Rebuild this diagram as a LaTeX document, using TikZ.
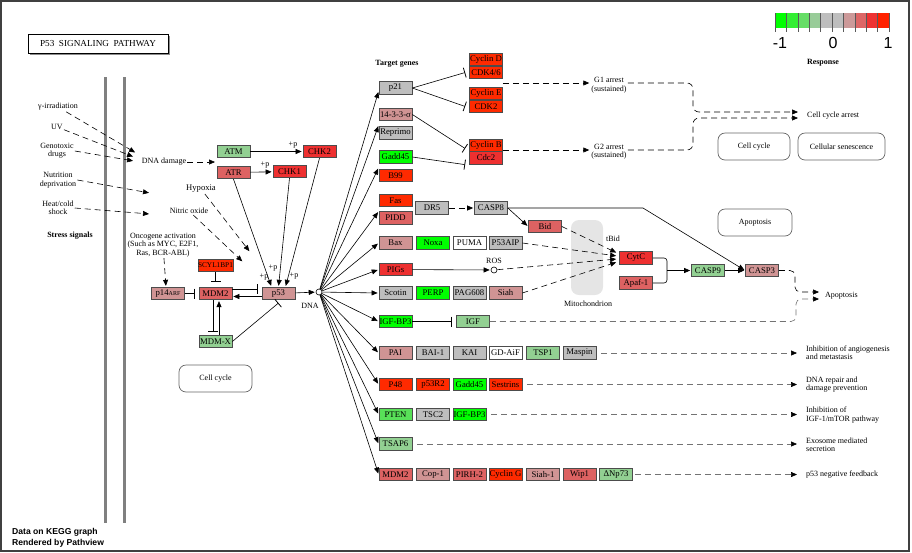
\documentclass[tikz,border=0pt]{standalone}
\usepackage{fontspec}
\setmainfont{Liberation Serif}
\setsansfont{Liberation Sans}
\usetikzlibrary{arrows.meta}

\definecolor{upH}{HTML}{FF2A00}
\definecolor{upM}{HTML}{EE3030}
\definecolor{upL}{HTML}{DD6262}
\definecolor{upS}{HTML}{D09494}
\definecolor{mid}{HTML}{BEBEBE}
\definecolor{dnS}{HTML}{92D092}
\definecolor{dnM}{HTML}{58E058}
\definecolor{dnH}{HTML}{00FF00}

\newcommand{\genefont}{\fontsize{8.7}{9}\selectfont}
\newcommand{\lblfont}{\fontsize{8}{8.4}\selectfont}

\begin{document}
\begin{tikzpicture}[x=1pt, y=-1pt,
    every node/.style={font=\lblfont},
    gene/.style={rectangle, draw=black!70, line width=0.7pt, minimum width=33pt, minimum height=12.6pt, inner sep=0pt, font=\genefont},
    note/.style={align=center, inner sep=1pt, font=\lblfont},
    outcome/.style={align=left, anchor=west, inner sep=0pt, font=\lblfont},
    group/.style={rectangle, rounded corners=7pt, draw=black!60, line width=0.7pt, minimum height=27pt, font=\lblfont},
    act/.style={-{Triangle[length=6pt,width=5pt]}, line width=0.6pt, shorten >=1pt},
    inh/.style={-{Bar[width=10pt,line width=0.8pt]}, line width=0.6pt},
    indirect/.style={act, dash pattern=on 6pt off 4pt},
    feed/.style={indirect, draw=black!55, -{Triangle[length=6pt,width=5pt,color=black]}},
    dot/.style={circle, draw, fill=white, inner sep=0pt, minimum size=6pt, line width=0.6pt}
  ]
    \useasboundingbox (0,0) rectangle (912,552);
    \draw[black!75, line width=2pt] (1,1) rectangle (909,551);

    % title and legend
    \fill[black!45] (30,36) rectangle (170,55);
    \node[draw, fill=white, line width=0.8pt, minimum width=140pt, minimum height=19pt, inner sep=0pt, font=\fontsize{9.2}{10}\selectfont] (title) at (98,43.5) {P53\ \ SIGNALING\ \ PATHWAY};
    \foreach \c [count=\i from 0] in {00FF00,33EE33,66DD66,99CC99,BEBEBE,BEBEBE,CC9999,DD6666,EE3333,FF2200} {
      \definecolor{bin}{HTML}{\c}
      \fill[bin] (775+\i*11.4,13) rectangle ++(11.4,15);
    }
    \foreach \i in {0,...,10} {
      \draw[black!65, line width=0.6pt] (775+\i*11.4,13) -- (775+\i*11.4,32);
    }
    \node[font=\sffamily\fontsize{16}{16}\selectfont] (lmin) at (780,43) {-1};
    \node[font=\sffamily\fontsize{16}{16}\selectfont] (lmid) at (833,43) {0};
    \node[font=\sffamily\fontsize{16}{16}\selectfont] (lmax) at (888,43) {1};
    \node[note, font=\lblfont\bfseries] (resp) at (823,63) {Response};
    \node[anchor=west, align=left, inner sep=0pt, font=\sffamily\bfseries\fontsize{8.6}{11}\selectfont] (credit) at (12,537.5) {Data on KEGG graph\\Rendered by Pathview};

    % membrane bars
    \draw[black!50, line width=3pt] (105,77) -- (105,523);
    \draw[black!50, line width=3pt] (124,77) -- (124,523);

    % stress signals
    \node[note] (gamma) at (58,107) {γ-irradiation};
    \node[note] (uv) at (57,127) {UV};
    \node[note] (geno) at (57,151) {Genotoxic\\drugs};
    \node[note] (nutri) at (58,180) {Nutrition\\deprivation};
    \node[note] (heat) at (58,208) {Heat/cold\\shock};
    \node[note, font=\lblfont\bfseries] (stress) at (70,236) {Stress signals};
    \node[note] (dmg) at (164,162) {DNA damage};
    \node[note, font=\fontsize{8.6}{9}\selectfont] (hyp) at (201,189) {Hypoxia};
    \node[note] (nitric) at (189,211) {Nitric oxide};
    \node[note] (onc) at (163,245) {Oncogene activation\\(Such as MYC, E2F1,\\Ras, BCR-ABL)};
    \coordinate (hitA) at (136,153);
    \coordinate (hitB) at (134,157);
    \coordinate (hitC) at (134,161);
    \coordinate (hitD) at (150,193);
    \coordinate (hitE) at (150,214);
    \coordinate (dmgout) at (216,162);
    \coordinate (hypout) at (250,252);
    \coordinate (noout) at (243,262);
    \draw[indirect] (gamma) -- (hitA);
    \draw[indirect] (uv) -- (hitB);
    \draw[indirect] (geno.east) -- (hitC);
    \draw[indirect] (nutri.east) -- (hitD);
    \draw[indirect] (heat.east) -- (hitE);
    \draw[indirect] (dmg) -- (dmgout);
    \draw[indirect] (hyp) -- (hypout);
    \draw[indirect] (nitric) -- (noout);

    % p53 core
    \node[gene, fill=dnS] (atm) at (233.5,151.5) {ATM};
    \node[gene, fill=upL] (atr) at (233.5,172.5) {ATR};
    \node[gene, fill=upM] (chk1) at (289.5,171.5) {CHK1};
    \node[gene, fill=upM] (chk2) at (319.5,151.5) {CHK2};
    \node[gene, fill=upS] (p53) at (278.5,293.5) {p53};
    \node[gene, fill=upL] (mdm2) at (215.5,293.5) {MDM2};
    \node[gene, fill=upS] (p14) at (168,293.5) {p14{\fontsize{6}{6}\selectfont ARF}};
    \node[gene, fill=upH, font=\fontsize{7.3}{8}\selectfont] (scyl) at (215.5,265.5) {SCYL1BP1};
    \node[gene, fill=dnS] (mdmx) at (215.5,341.5) {MDM-X};
    \node[dot] (dna) at (319,292) {};
    \node[note] (dnalbl) at (310,306) {DNA};

    \draw[act] (atm) -- (chk2);
    \draw[act] (atr) -- (chk1);
    \node[note] (pA) at (293,145) {+p};
    \node[note] (pB) at (265,165) {+p};
    \draw[act] (atr.south) -- ([xshift=-7pt]p53.north);
    \draw[act] (chk1.south) -- (p53.north);
    \draw[act] (chk2.south) -- ([xshift=7pt]p53.north);
    \node[note] (pC) at (264,277) {+p};
    \node[note] (pD) at (273,268) {+p};
    \node[note] (pE) at (294,276) {+p};
    \draw[indirect] (onc) -- ([xshift=-2pt]p14.north);
    \draw[inh] (p14) -- ([xshift=-4pt]mdm2.west);
    \draw[inh] (scyl) -- (mdm2.north |- 0,282);
    \draw[inh] (mdm2.east |- 0,289) -- ([xshift=-4pt]p53.west |- 0,289);
    \draw[act] (p53.west |- 0,296.5) -- (mdm2.east |- 0,296.5);
    \draw[inh] ([xshift=-2.5pt]mdm2.south) -- ([xshift=-2.5pt]mdmx.north |- 0,332);
    \draw[act] ([xshift=3.5pt]mdmx.north) -- ([xshift=3.5pt]mdm2.south);
    \draw[inh] (mdmx.east) -- (p53.south |- 0,303);
    \draw[act] (p53) -- (dna);
    \node[group, minimum width=73pt] (cyc2) at (215.5,378.5) {Cell cycle};

    % target genes
    \node[note, font=\lblfont\bfseries] (targets) at (397,64) {Target genes};
    \node[gene, fill=mid] (p21) at (395.5,88) {p21};
    \node[gene, fill=upS] (sigma) at (395.5,114.5) {14-3-3-σ};
    \node[gene, fill=mid] (reprimo) at (395.5,133) {Reprimo};
    \node[gene, fill=dnH] (gaddA) at (395.5,157) {Gadd45};
    \node[gene, fill=upH] (b99) at (395.5,175.5) {B99};
    \node[gene, fill=upH] (fas) at (395.5,200.5) {Fas};
    \node[gene, fill=upL] (pidd) at (395.5,218) {PIDD};
    \node[gene, fill=upS] (bax) at (395.5,243) {Bax};
    \node[gene, fill=upM] (pigs) at (395.5,269.5) {PIGs};
    \node[gene, fill=mid] (scotin) at (395.5,293) {Scotin};
    \node[gene, fill=dnH] (igfbpA) at (395.5,321.5) {IGF-BP3};
    \node[gene, fill=upS] (pai) at (395.5,353) {PAI};
    \node[gene, fill=upH] (p48) at (395.5,384.5) {P48};
    \node[gene, fill=dnM] (pten) at (395.5,414.5) {PTEN};
    \node[gene, fill=dnS] (tsap6) at (395.5,444) {TSAP6};
    \node[gene, fill=upL] (mdm2b) at (395.5,474.5) {MDM2};

    \node[gene, fill=dnH] (noxa) at (433,243) {Noxa};
    \node[gene, fill=white] (puma) at (469.5,243) {PUMA};
    \node[gene, fill=mid] (p53aip) at (505.5,243) {P53AIP};
    \node[gene, fill=dnH] (perp) at (433,293) {PERP};
    \node[gene, fill=mid] (pag608) at (469.5,293) {PAG608};
    \node[gene, fill=upS] (siah) at (505.5,293) {Siah};
    \node[gene, fill=dnS] (igf) at (473,321.5) {IGF};
    \node[gene, fill=mid] (bai1) at (433,353) {BAI-1};
    \node[gene, fill=mid] (kai) at (469.5,353) {KAI};
    \node[gene, fill=white] (gdaif) at (505.5,353) {GD-AiF};
    \node[gene, fill=dnS] (tsp1) at (543,353) {TSP1};
    \node[gene, fill=mid] (maspin) at (579.5,353) {Maspin};
    \node[gene, fill=upH] (p53r2) at (433,384.5) {p53R2};
    \node[gene, fill=dnH] (gaddB) at (469.5,384.5) {Gadd45};
    \node[gene, fill=upH] (sestrins) at (505.5,384.5) {Sestrins};
    \node[gene, fill=mid] (tsc2) at (433,414.5) {TSC2};
    \node[gene, fill=dnH] (igfbpB) at (469.5,414.5) {IGF-BP3};
    \node[gene, fill=upS] (cop1) at (433,474.5) {Cop-1};
    \node[gene, fill=upL] (pirh2) at (469.5,474.5) {PIRH-2};
    \node[gene, fill=upH] (cycg) at (505.5,474.5) {Cyclin G};
    \node[gene, fill=upS] (siah1) at (543,474.5) {Siah-1};
    \node[gene, fill=upL] (wip1) at (579.5,474.5) {Wip1};
    \node[gene, fill=dnS] (dnp73) at (616,474.5) {ΔNp73};

    \draw[act] (dna) -- ([yshift=-3pt]p21.west);
    \draw[act] (dna) -- ([yshift=-4pt]sigma.south west);
    \draw[act] (dna) -- ([yshift=-4pt]gaddA.south west);
    \draw[act] (dna) -- (pidd.north west);
    \foreach \t in {bax,pigs,scotin,igfbpA,pai,p48,pten,tsap6,mdm2b} {
      \draw[act] (dna) -- (\t.west);
    }

    % cell cycle arrest
    \node[gene, fill=upH] (cycd) at (486,59.5) {Cyclin D};
    \node[gene, fill=upH] (cdk46) at (486,72.5) {CDK4/6};
    \node[gene, fill=upH] (cyce) at (486,93.5) {Cyclin E};
    \node[gene, fill=upH] (cdk2) at (486,106.5) {CDK2};
    \node[gene, fill=upH] (cycb) at (486,145.5) {Cyclin B};
    \node[gene, fill=upM] (cdc2) at (486,158) {Cdc2};
    \draw[inh] (p21.east) -- ([xshift=-4pt]cdk46.west);
    \draw[inh] (p21.east) -- ([xshift=-4pt]cdk2.west);
    \draw[inh] (sigma.east) -- ([xshift=-4pt,yshift=-3pt]cycb.west);
    \draw[inh] (gaddA.east) -- ([xshift=-4pt]cdc2.south west);
    \node[note] (g1) at (609,85) {G1 arrest\\(sustained)};
    \node[note] (g2) at (609,151.5) {G2 arrest\\(sustained)};
    \node[outcome] (arrest) at (807,116) {Cell cycle arrest};
    \draw[indirect] (cdk46.south east |- 0,83) -- (g1.west |- 0,83);
    \draw[indirect] (cycb.east |- 0,150) -- (g2.west |- 0,150);
    \draw[indirect, rounded corners=6pt] (g1.east |- 0,83) -- (693,83) -- (693,112) -- ([xshift=-8pt]arrest.west |- 0,112);
    \draw[indirect, rounded corners=6pt] (g2.east |- 0,150) -- (693,150) -- (693,118) -- ([xshift=-8pt]arrest.west |- 0,118);
    \node[group, minimum width=72pt] (cyc1) at (754,146.5) {Cell cycle};
    \node[group, minimum width=87pt] (senes) at (841.5,146.5) {Cellular senescence};

    % apoptosis
    \node[rectangle, rounded corners=8pt, fill=black!10, minimum width=32pt, minimum height=75pt] (mito) at (587,257.5) {};
    \node[note] (mitolbl) at (588,304) {Mitochondrion};
    \node[gene, fill=mid] (dr5) at (432,208) {DR5};
    \node[gene, fill=mid] (casp8) at (491,208) {CASP8};
    \node[gene, fill=upL] (bid) at (545,226.5) {Bid};
    \node[gene, fill=upM] (cytc) at (636,258) {CytC};
    \node[gene, fill=upL] (apaf) at (636,283) {Apaf-1};
    \node[gene, fill=dnS] (casp9) at (708,270.5) {CASP9};
    \node[gene, fill=upS] (casp3) at (762,270.5) {CASP3};
    \node[dot] (ros) at (494,270) {};
    \node[note] (roslbl) at (494,261) {ROS};
    \node[note] (tbid) at (613,239) {tBid};
    \node[group, minimum width=74pt] (apo) at (755,222.5) {Apoptosis};
    \node[outcome] (apopt) at (825,296) {Apoptosis};
    \coordinate (join) at (667,270.5);

    \draw[indirect] (dr5) -- (casp8);
    \draw[act] (casp8.east) -- (bid.west);
    \draw[act] (casp8.east) -- (643,208) -- (casp3.west);
    \draw[act] (pigs) -- (ros);
    \draw[indirect] (bid.east) -- ([xshift=-2pt,yshift=5pt]cytc.west);
    \draw[indirect] (p53aip.east) -- ([xshift=-2pt,yshift=2pt]cytc.west);
    \draw[indirect] (ros) -- ([xshift=-2pt,yshift=-1pt]cytc.west);
    \draw[indirect] (siah.east) -- ([xshift=-2pt,yshift=-4pt]cytc.west);
    \draw[line width=0.6pt, rounded corners=3pt] (cytc.east) -| (join) |- (apaf.east);
    \draw[act] (join) -- (casp9);
    \draw[act] (casp9) -- (casp3);
    \draw[inh] (igfbpA) -- ([xshift=-4pt]igf.west);
    \draw[indirect, rounded corners=5pt] (casp3.east) -- (795,270.5) -- (795,292) -- ([xshift=-5pt]apopt.west |- 0,292);
    \draw[feed, rounded corners=5pt] (igf.east) -- (796,321.5) -- (796,299) -- ([xshift=-5pt]apopt.west |- 0,299);

    % outcomes of the gene rows
    \node[outcome] (angio) at (806,353) {Inhibition of angiogenesis\\and metastasis};
    \node[outcome] (repair) at (806,384.5) {DNA repair and\\damage prevention};
    \node[outcome] (mtor) at (806,415) {Inhibition of\\IGF-1/mTOR pathway};
    \node[outcome] (exo) at (806,444.5) {Exosome mediated\\secretion};
    \node[outcome] (negfb) at (806,474.5) {p53 negative feedback};
    \draw[feed, shorten <=5pt] (maspin) -- ([xshift=-8pt]angio.west);
    \draw[feed, shorten <=5pt] (sestrins) -- ([xshift=-8pt]repair.west);
    \draw[feed, shorten <=5pt] (igfbpB) -- ([xshift=-8pt]mtor.west |- igfbpB);
    \draw[feed, shorten <=5pt] (tsap6) -- ([xshift=-8pt]exo.west |- tsap6);
    \draw[feed, shorten <=2pt] (dnp73) -- ([xshift=-8pt]negfb.west);
\end{tikzpicture}
\end{document}
